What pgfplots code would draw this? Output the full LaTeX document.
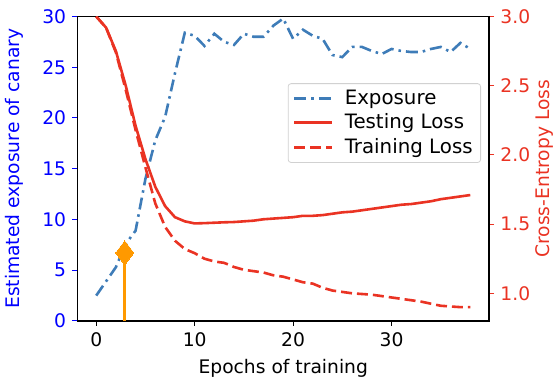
\documentclass[border=0pt]{standalone}
\usepackage{fontspec}
\setmainfont{DejaVu Sans}
\usepackage{pgfplots}
\pgfplotsset{compat=1.18}
\definecolor{expblue}{RGB}{62,124,184}
\definecolor{lossred}{RGB}{234,51,35}
\definecolor{canaryorange}{RGB}{255,153,0}
\definecolor{axblue}{RGB}{0,0,255}
\begin{document}
\fontsize{18.7}{22}\selectfont
\begin{tikzpicture}
\pgfplotsset{
  base/.style={
    scale only axis, width=411.5pt, height=304.5pt,
    at={(0pt,0pt)}, anchor=south west,
    xmin=-1.9, xmax=39.9,
    font=\fontsize{18.7}{22}\selectfont,
    /pgf/number format/assume math mode=true,
    tick align=outside, major tick length=5pt,
    every tick/.style={line width=1pt},
    axis line style={line width=1.1pt},
  }
}
\begin{axis}[base,
  ymin=0, ymax=30, ytick={0,5,10,15,20,25,30},
  xtick={0,10,20,30}, xtick pos=bottom, ytick pos=left,
  y tick style={axblue, line width=1pt},
  yticklabel style={color=axblue},
  xlabel={Epochs of training},
  xlabel style={at={(axis description cs:0.5,-0.154)}, anchor=center},
  ylabel={Estimated exposure of canary},
  ylabel style={at={(axis description cs:-0.154,0.5)}, anchor=center, color=axblue},
]
\addplot[expblue, line width=2.6pt, dash pattern=on 12pt off 5pt on 2.5pt off 5pt] coordinates {
(0,2.5) (1,3.9) (2,5.3) (3,7.6) (4,8.9) (5,14.0) (6,17.8) (7,20.1) (8,24.4) (9,28.4)
(10,28.1) (11,27.1) (12,28.3) (13,27.5) (14,27.2) (15,28.3) (16,28.0) (17,28.0) (18,29.1) (19,29.8)
(20,27.8) (21,28.7) (22,28.1) (23,27.8) (24,26.2) (25,26.0) (26,27.0) (27,27.0) (28,26.6) (29,26.3)
(30,26.8) (31,26.6) (32,26.5) (33,26.5) (34,26.8) (35,27.0) (36,26.5) (37,27.4) (38,26.8)
};
\addplot[canaryorange, line width=3pt, mark=diamond*, mark indices={2}, mark size=12pt,
  mark options={solid, fill=canaryorange, draw=canaryorange, line width=0pt}] coordinates {(2.9,0) (2.9,6.7)};
\end{axis}
\begin{axis}[base,
  ymin=0.8, ymax=3.0, ytick={1.0,1.5,2.0,2.5,3.0},
  axis x line=none, axis y line*=right,
  y tick style={lossred, line width=1pt},
  yticklabel style={color=lossred, /pgf/number format/.cd, fixed, fixed zerofill, precision=1},
  ylabel={Cross-Entropy Loss},
  ylabel style={at={(axis description cs:1.136,0.5)}, anchor=center, color=lossred},
  legend cell align=left,
  legend image code/.code={\draw[#1] (0pt,0pt) -- (38pt,0pt);},
  legend style={at={(axis description cs:1,0.65)}, anchor=east, xshift=-8pt,
    draw=black!18, line width=0.8pt, rounded corners=3pt, fill=white, fill opacity=0.8, text opacity=1,
    font=\fontsize{19.8}{23}\selectfont, inner xsep=5pt, inner ysep=5pt, row sep=5pt,
    nodes={inner xsep=3pt, inner ysep=1pt},
    /tikz/every odd column/.append style={column sep=8pt}},
]
\addlegendimage{expblue, line width=2.6pt, dash pattern=on 12pt off 5pt on 2.5pt off 5pt}
\addlegendentry{Exposure}
\addplot[lossred, line width=2.6pt] coordinates {
(0,3.00) (1,2.92) (2,2.75) (3,2.50) (4,2.21) (5,1.97) (6,1.77) (7,1.63) (8,1.55) (9,1.52)
(10,1.505) (11,1.507) (12,1.51) (13,1.513) (14,1.515) (15,1.52) (16,1.525) (17,1.535) (18,1.54) (19,1.545)
(20,1.55) (21,1.56) (22,1.56) (23,1.565) (24,1.575) (25,1.585) (26,1.59) (27,1.60) (28,1.61) (29,1.62)
(30,1.63) (31,1.64) (32,1.645) (33,1.655) (34,1.665) (35,1.68) (36,1.69) (37,1.70) (38,1.71)
};
\addlegendentry{Testing Loss}
\addplot[lossred, line width=2.6pt, dash pattern=on 11pt off 5pt] coordinates {
(0,3.00) (1,2.92) (2,2.74) (3,2.47) (4,2.18) (5,1.91) (6,1.65) (7,1.48) (8,1.38) (9,1.32)
(10,1.29) (11,1.25) (12,1.23) (13,1.22) (14,1.19) (15,1.17) (16,1.16) (17,1.15) (18,1.13) (19,1.12)
(20,1.10) (21,1.08) (22,1.07) (23,1.04) (24,1.02) (25,1.01) (26,1.00) (27,0.995) (28,0.99) (29,0.98)
(30,0.97) (31,0.96) (32,0.95) (33,0.94) (34,0.925) (35,0.91) (36,0.905) (37,0.90) (38,0.90)
};
\addlegendentry{Training Loss}
\end{axis}
\pgfresetboundingbox
\path (-77.5pt,-58pt) rectangle (480.5pt,321pt);
\end{tikzpicture}
\end{document}
